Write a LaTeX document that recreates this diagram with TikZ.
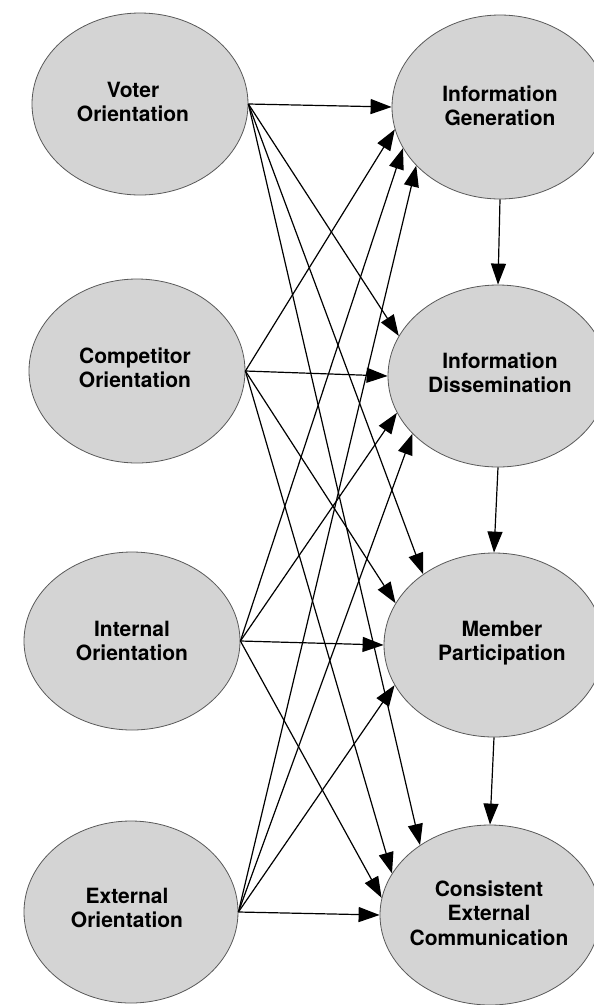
\documentclass[tikz,border=0pt]{standalone}
\usepackage{fontspec}
\setmainfont{TeX Gyre Heros}
\usetikzlibrary{shapes.geometric,arrows.meta}
\begin{document}
\begin{tikzpicture}[x=1pt,y=-1pt,
  ov/.style={ellipse,draw=black!65,line width=0.8pt,fill=black!17,inner sep=0pt},
  lbl/.style={align=center,font=\fontsize{21}{24.5}\selectfont\bfseries,inner sep=0pt},
  arr/.style={line width=1.2pt,-{Triangle[length=21pt,width=15pt]}}]
\clip (0,0) rectangle (594,1005);
% left ellipses
\node[ov,minimum width=216pt,minimum height=182pt] (vo) at (140,104) {};
\node[ov,minimum width=216pt,minimum height=184pt] (co) at (137,371) {};
\node[ov,minimum width=216pt,minimum height=178pt] (io) at (132,641) {};
\node[ov,minimum width=214pt,minimum height=182pt] (eo) at (131,912) {};
% right ellipses
\node[ov,minimum width=216pt,minimum height=184pt] (ig) at (500,107) {};
\node[ov,minimum width=220pt,minimum height=182pt] (id) at (498,376) {};
\node[ov,minimum width=220pt,minimum height=184pt] (mp) at (494,645) {};
\node[ov,minimum width=220pt,minimum height=180pt] (ce) at (490,915) {};
% labels
\node[lbl] (vot) at (133,102) {Voter\\Orientation};
\node[lbl] (cot) at (135,368) {Competitor\\Orientation};
\node[lbl] (iot) at (132,641) {Internal\\Orientation};
\node[lbl] (eot) at (127,908) {External\\Orientation};
\node[lbl] (igt) at (500,106) {Information\\Generation};
\node[lbl] (idt) at (500,373) {Information\\Dissemination};
\node[lbl] (mpt) at (502,643) {Member\\Participation};
\node[lbl] (cet) at (489,913) {Consistent\\External\\Communication};
% arrows from Voter Orientation
\draw[arr] (vo.east) -- (ig.180);
\draw[arr] (vo.east) -- (id.158);
\draw[arr] (vo.east) -- (mp.135);
\draw[arr] (vo.east) -- (ce.135);
% arrows from Competitor Orientation
\draw[arr] (co.east) -- (ig.192);
\draw[arr] (co.east) -- (id.180);
\draw[arr] (co.east) -- (mp.157);
\draw[arr] (co.east) -- (ce.157);
% arrows from Internal Orientation
\draw[arr] (io.east) -- (ig.203);
\draw[arr] (io.east) -- (id.200);
\draw[arr] (io.east) -- (mp.180);
\draw[arr] (io.east) -- (ce.171);
% arrows from External Orientation
\draw[arr] (eo.east) -- (ig.215);
\draw[arr] (eo.east) -- (id.214);
\draw[arr] (eo.east) -- (mp.202);
\draw[arr] (eo.east) -- (ce.180);
% vertical chain
\draw[arr] (ig.south) -- (id.north);
\draw[arr] (id.south) -- (mp.north);
\draw[arr] (mp.south) -- (ce.north);
\end{tikzpicture}
\end{document}
